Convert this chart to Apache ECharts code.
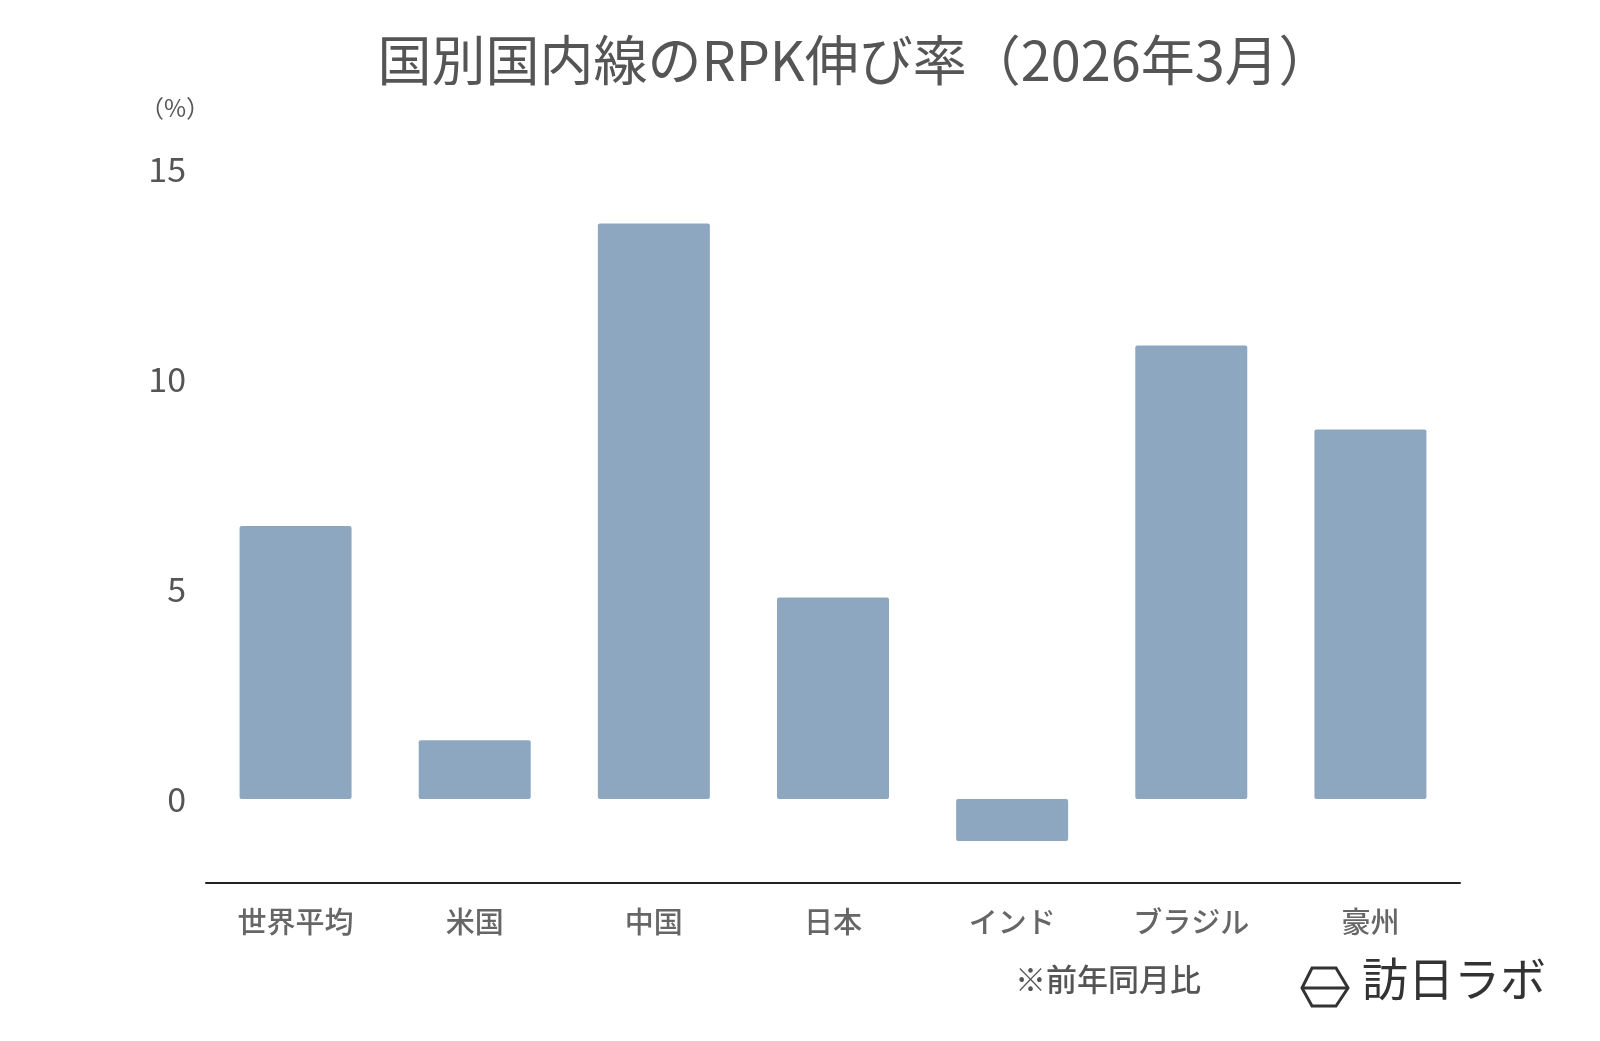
<!DOCTYPE html>
<html><head><meta charset="utf-8">
<script src="https://cdn.jsdelivr.net/npm/echarts@6/dist/echarts.min.js"></script>
<style>html,body{margin:0;padding:0;background:#fff}#c{width:1600px;height:1041px}</style>
</head><body><div id="c"></div>
<script>
const categories = ['世界平均','米国','中国','日本','インド','ブラジル','豪州'];
const values = [6.5, 1.4, 13.7, 4.8, -1.0, 10.8, 8.8];
const yTicks = [0, 5, 10, 15];
const font = '"Noto Sans CJK JP", "Noto Sans", sans-serif';
const chart = echarts.init(document.getElementById('c'));
chart.setOption({
  backgroundColor: '#fff',
  title: { text: '国別国内線のRPK伸び率（2026年3月）', left: 850, top: 28, textAlign: 'center',
    textStyle: { fontFamily: font, fontSize: 54, fontWeight: 'normal', color: '#555' } },
  grid: { left: 206, right: 140, top: 169, bottom: 158 },
  xAxis: { type: 'category', data: categories,
    axisLine: { onZero: false, lineStyle: { color: '#222', width: 2 } }, axisTick: { show: false },
    axisLabel: { fontFamily: font, fontSize: 29, fontWeight: 500, color: '#666', margin: 24 } },
  yAxis: { type: 'value', min: -2, max: 15, interval: 1,
    splitLine: { show: false }, axisLine: { show: false }, axisTick: { show: false },
    axisLabel: { fontFamily: font, fontSize: 34, color: '#555', margin: 20,
      formatter: v => yTicks.includes(v) ? String(v) : '' } },
  series: [{ type: 'bar', data: values, barWidth: 112,
    itemStyle: { color: '#8ea7c1', borderRadius: 2 } }],
  graphic: [
    { type: 'text', left: 140, top: 96, style: { text: '（%）', font: '24px ' + font, fill: '#555' } },
    { type: 'text', left: 1015, top: 964, style: { text: '※前年同月比', font: '500 31px ' + font, fill: '#555' } },
    { type: 'polygon', shape: { points: [[1312,968],[1336,968],[1348,988],[1336,1006],[1312,1006],[1302,988]] },
      style: { fill: 'none', stroke: '#333', lineWidth: 3 } },
    { type: 'line', shape: { x1: 1302, y1: 988, x2: 1348, y2: 988 }, style: { stroke: '#333', lineWidth: 3 } },
    { type: 'text', left: 1362, top: 956, style: { text: '訪日ラボ', font: '46px ' + font, fill: '#333' } }
  ]
});
</script></body></html>
